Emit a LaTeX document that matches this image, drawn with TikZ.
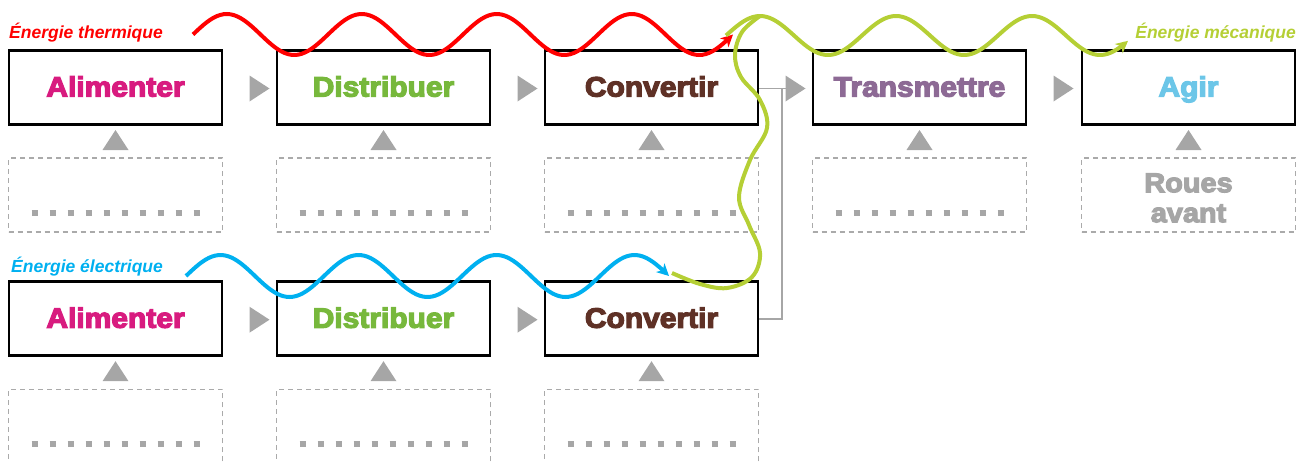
\documentclass[tikz,border=0pt]{standalone}
\usepackage{fontspec}
\setmainfont{Liberation Sans}
\newfontfamily\heavyfont{Liberation Sans}[FakeStretch=1.07,BoldFeatures={FakeBold=4.5}]
\usetikzlibrary{calc,arrows.meta}
\definecolor{cAlim}{HTML}{D81B7F}
\definecolor{cDist}{HTML}{77B83C}
\definecolor{cConv}{HTML}{5F3126}
\definecolor{cTrans}{HTML}{8D6A95}
\definecolor{cAgir}{HTML}{6CC6E8}
\definecolor{cGray}{HTML}{A6A6A6}
\definecolor{cDash}{HTML}{AAAAAA}
\definecolor{cRed}{HTML}{FF0000}
\definecolor{cBlue}{HTML}{00B0F0}
\definecolor{cGreen}{HTML}{B5CF35}
\begin{document}
\begin{tikzpicture}[x=1pt,y=-1pt,
  mainbox/.style={draw=black, line width=2.5pt, minimum width=213pt, minimum height=74pt, inner sep=0pt,
    font=\heavyfont\bfseries\fontsize{28}{30}\selectfont, text height=20pt, text depth=2pt},
  dashbox/.style={draw=cDash, line width=1.3pt, dash pattern=on 5pt off 4pt, minimum width=214pt, minimum height=74pt, inner sep=0pt,
    font=\heavyfont\bfseries\fontsize{27}{30}\selectfont, text=cGray, align=center},
  dots/.style={cGray, line width=6pt, dash pattern=on 6pt off 12pt},
  arrowtri/.style={fill=cGray},
  link/.style={draw=cGray, line width=1.6pt},
  wave/.style={line width=4pt, -{Stealth[length=12pt,width=12pt,inset=3.5pt]}},
  energy/.style={font=\bfseries\itshape\fontsize{17.5}{20}\selectfont, inner sep=0pt}
]
\useasboundingbox (0,0) rectangle (1312,463);

% top row
\node[mainbox, text=cAlim]  (a1) at (115.5,87.5) {Alimenter};
\node[mainbox, text=cDist]  (b1) at (383.5,87.5) {Distribuer};
\node[mainbox, text=cConv]  (c1) at (651.5,87.5) {Convertir};
\node[mainbox, text=cTrans] (d1) at (919.5,87.5) {Transmettre};
\node[mainbox, text=cAgir]  (e1) at (1188.5,87.5) {Agir};

\node[dashbox] (da1) at (115.5,195) {};
\node[dashbox] (db1) at (383.5,195) {};
\node[dashbox] (dc1) at (651.5,195) {};
\node[dashbox] (dd1) at (919.5,195) {};
\node[dashbox] (de1) at (1188.5,195) {};
\node[font=\heavyfont\bfseries\fontsize{27}{30}\selectfont, text=cGray, align=center, inner sep=0pt] (ra) at (1188.5,198) {Roues\\avant};

% bottom row
\node[mainbox, text=cAlim] (a2) at (115.5,318.7) {Alimenter};
\node[mainbox, text=cDist] (b2) at (383.5,318.7) {Distribuer};
\node[mainbox, text=cConv] (c2) at (651.5,318.7) {Convertir};

\node[dashbox] (da2) at (115.5,426.3) {};
\node[dashbox] (db2) at (383.5,426.3) {};
\node[dashbox] (dc2) at (651.5,426.3) {};

% dotted placeholders
\foreach \n in {da1,db1,dc1,dd1,da2,db2,dc2}{
  \draw[dots] ($(\n.center)+(-84,18)$) -- ($(\n.center)+(84,18)$);
}

% up triangles
\foreach \n in {a1,b1,c1,d1,e1,a2,b2,c2}{
  \fill[arrowtri] ($(\n.center)+(-13,62.5)$) -- ($(\n.center)+(13,62.5)$) -- ($(\n.center)+(0,42.5)$) -- cycle;
}

% right triangles between boxes
\foreach \n in {a1,b1,c1,d1,a2,b2}{
  \fill[arrowtri] ($(\n.center)+(134,-12)$) -- ($(\n.center)+(134,14)$) -- ($(\n.center)+(154,1)$) -- cycle;
}

% grey connector from both Convertir boxes
\coordinate (jn) at (782,88.5);
\coordinate (tt) at (790,88.5);
\draw[link] (c1.east |- tt) -- (tt);
\draw[link] (c2.east) -| (jn);

% energy labels
\node[energy, text=cRed, anchor=base west] (lt) at (9,38) {Énergie thermique};
\node[energy, text=cBlue, anchor=base west] (le) at (11,272) {Énergie électrique};
\node[energy, text=cGreen, anchor=base east] (lm) at (1296,38) {Énergie mécanique};

% waves
\draw[wave, cRed] plot[domain=193:733, samples=160] (\x, {34.5-20.5*sin((\x-193)/135*360)});
\draw[wave, cBlue] plot[domain=186:669, samples=150] (\x, {276-21*sin((\x-186)/138*360)});
\draw[line width=4pt, cGreen] plot[smooth, tension=0.6] coordinates {(672,273) (700,284) (727,288) (752,277) (760,253) (749,225) (739,197) (750,160) (767,128) (760,100) (741,77) (735,55) (742,32) (760,16)};
\draw[wave, cGreen] plot[domain=726:1128, samples=140] (\x, {35.5-19.5*sin((\x-726)/136*360)});
\end{tikzpicture}
\end{document}
